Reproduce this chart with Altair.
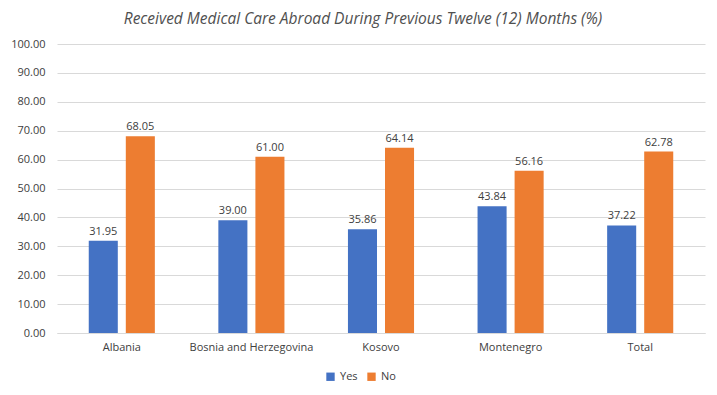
import altair as alt
import pandas as pd

categories = ["Albania", "Bosnia and Herzegovina", "Kosovo", "Montenegro", "Total"]
yes_values = [31.95, 39.00, 35.86, 43.84, 37.22]
no_values = [68.05, 61.00, 64.14, 56.16, 62.78]
series = ["Yes", "No"]
colors = ["#4472C4", "#ED7D31"]
y_ticks = [0, 10, 20, 30, 40, 50, 60, 70, 80, 90, 100]

rows = []
for c, y, n in zip(categories, yes_values, no_values):
    rows.append({"country": c, "series": "Yes", "value": y})
    rows.append({"country": c, "series": "No", "value": n})
df = pd.DataFrame(rows)

FONT = "Open Sans"

base = alt.Chart(df).encode(
    x=alt.X("country:N", sort=categories,
            scale=alt.Scale(paddingInner=0.49, paddingOuter=0.245),
            axis=alt.Axis(title=None, labelAngle=0, labelFont=FONT, labelFontSize=11,
                          labelColor="#404040", domainColor="#d9d9d9", ticks=False,
                          grid=False, labelPadding=8)),
    xOffset=alt.XOffset("series:N", sort=series,
                        scale=alt.Scale(paddingInner=0.216, paddingOuter=0)),
    y=alt.Y("value:Q", scale=alt.Scale(domain=[0, 100], nice=False),
            axis=alt.Axis(title=None, format=".2f", values=y_ticks, labelOverlap=False,
                          labelFont=FONT, labelFontSize=11, labelColor="#404040",
                          grid=True, gridColor="#d9d9d9", domain=False, ticks=False,
                          labelPadding=12)),
)

bars = base.mark_bar().encode(
    color=alt.Color("series:N", sort=series,
                    scale=alt.Scale(domain=series, range=colors),
                    legend=alt.Legend(title=None, orient="none", direction="horizontal",
                                      legendX=268, legendY=327, symbolType="square",
                                      symbolSize=70, labelFont=FONT, labelFontSize=11,
                                      labelColor="#404040", columnPadding=8,
                                      symbolStrokeWidth=0)),
)

labels = base.mark_text(dy=-9, font=FONT, fontSize=11, color="#404040").encode(
    text=alt.Text("value:Q", format=".2f"),
)

chart = (bars + labels).properties(
    width=648, height=289,
    autosize=alt.AutoSizeParams(type="none"),
    padding={"left": 49, "top": 36, "right": 4, "bottom": 50},
    title=alt.Title("Received Medical Care Abroad During Previous Twelve (12) Months (%)",
                    font=FONT, fontSize=15.5, fontStyle="italic", fontWeight="normal",
                    color="#505050", offset=11, dx=-18),
).configure(background="white").configure_view(stroke=None)

chart.save("out.html", embed_options={"renderer": "svg", "actions": False})
